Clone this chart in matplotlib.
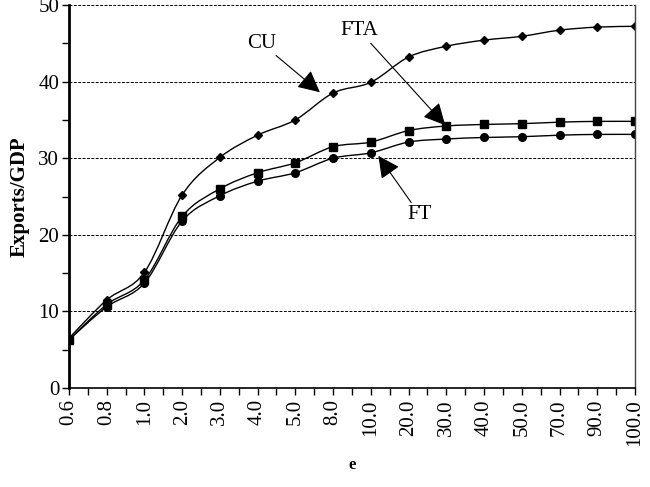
import numpy as np
import matplotlib.pyplot as plt
from matplotlib.path import Path
from matplotlib.patches import PathPatch

plt.rcParams.update({"font.family": "Liberation Serif", "font.size": 14})

e_labels = ["0.6", "0.8", "1.0", "2.0", "3.0", "4.0", "5.0", "8.0", "10.0",
            "20.0", "30.0", "40.0", "50.0", "70.0", "90.0", "100.0"]
cu = [6.5, 11.5, 15.1, 25.2, 30.1, 33.0, 35.0, 38.5, 39.9,
      43.2, 44.6, 45.4, 45.9, 46.7, 47.1, 47.2]
fta = [6.3, 10.9, 14.1, 22.4, 26.0, 28.1, 29.4, 31.5, 32.1,
       33.6, 34.2, 34.4, 34.5, 34.7, 34.8, 34.8]
ft = [6.3, 10.6, 13.7, 21.8, 25.1, 27.0, 28.1, 30.0, 30.7,
      32.1, 32.5, 32.7, 32.8, 33.0, 33.1, 33.1]

series = [
    {"y": cu, "marker": "D", "ms": 4},
    {"y": fta, "marker": "s", "ms": 5.5},
    {"y": ft, "marker": "o", "ms": 5.5},
]


def smooth_path(x, y):
    # excel-like smoothed line drawn as cubic bezier segments
    p = np.column_stack([x, y]).astype(float)
    n = len(p)
    verts = [p[0]]
    codes = [Path.MOVETO]
    for i in range(n - 1):
        p0 = p[i - 1] if i > 0 else p[i]
        p3 = p[i + 2] if i + 2 < n else p[i + 1]
        c1 = p[i] + (p[i + 1] - p0) / 6
        c2 = p[i + 1] - (p3 - p[i]) / 6
        verts += [c1, c2, p[i + 1]]
        codes += [Path.CURVE4] * 3
    return Path(verts, codes)


fig = plt.figure(figsize=(6.5, 4.87), dpi=100)
ax = fig.add_axes([0.106, 0.203, 0.871, 0.787])

x = np.arange(len(e_labels))
for s in series:
    ax.add_patch(PathPatch(smooth_path(x, s["y"]), fill=False, color="black", lw=1.0))
    ax.plot(x, s["y"], linestyle="none", marker=s["marker"], ms=s["ms"], color="black")

ax.set_xlim(0, len(e_labels) - 1)
ax.set_ylim(0, 50)
ax.set_xticks(x)
ax.set_xticklabels(e_labels, rotation=90)
ax.set_xticks(x[:-1] + 0.5, minor=True)
ax.set_yticks(np.arange(0, 51, 10))
ax.set_yticks(np.arange(5, 50, 10), minor=True)
ax.tick_params(axis="both", which="both", direction="out", length=5, width=1, color="black")
ax.tick_params(axis="y", which="major", labelsize=15, pad=2)
ax.tick_params(axis="x", which="major", labelsize=15, pad=3)

ax.grid(axis="y", linestyle=(0, (3, 1.5)), color="black", linewidth=0.7)
ax.spines["top"].set_visible(False)
ax.spines["left"].set_linewidth(2)
ax.spines["right"].set_linewidth(1)
ax.spines["right"].set_color("#444444")
ax.spines["bottom"].set_linewidth(1.2)

ax.set_ylabel("Exports/GDP", fontweight="bold", fontsize=15, labelpad=6)
ax.set_xlabel("e", fontweight="bold", fontsize=12, labelpad=8)

arrow = dict(arrowstyle="-|>,head_length=0.9,head_width=0.45", color="black", lw=0.8,
             shrinkA=0, shrinkB=0)
ax.annotate("CU", xy=(6.65, 38.6), xytext=(5.1, 45.0), fontsize=15,
            ha="center", va="center", arrowprops=arrow)
ax.annotate("FTA", xy=(9.97, 34.3), xytext=(7.7, 46.6), fontsize=15,
            ha="center", va="center", arrowprops=arrow)
ax.annotate("FT", xy=(8.2, 30.3), xytext=(9.3, 22.6), fontsize=15,
            ha="center", va="center", arrowprops=arrow)

fig.savefig("out.png", dpi=100)
